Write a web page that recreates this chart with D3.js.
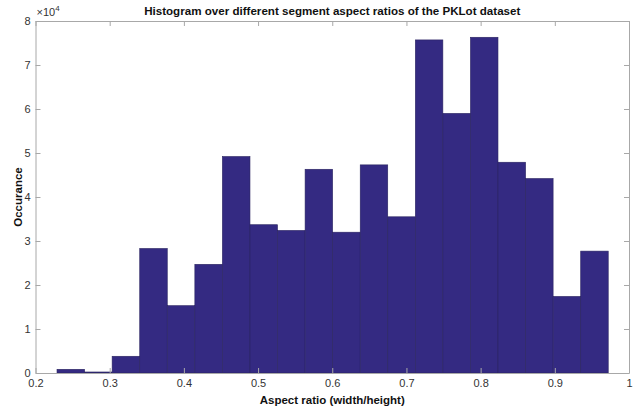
<!DOCTYPE html>
<html>
<head>
<meta charset="utf-8">
<script src="https://cdn.jsdelivr.net/npm/d3@7"></script>
<style>
  body { margin: 0; background: #fff; }
  svg { font-family: "Liberation Sans", Arial, sans-serif; }
</style>
</head>
<body>
<div id="chart"></div>
<script>
// bin edges (aspect ratio) and counts per bin
var binEdges = [0.2290, 0.2662, 0.3033, 0.3405, 0.3776, 0.4148, 0.4519, 0.4891, 0.5262, 0.5634,
                0.6005, 0.6377, 0.6748, 0.7120, 0.7491, 0.7863, 0.8234, 0.8606, 0.8977, 0.9349, 0.9720];
var counts = [840, 230, 3800, 28300, 15300, 24700, 49200, 33700, 32400, 46300,
              32000, 47300, 35500, 75700, 59000, 76300, 47900, 44200, 17400, 27700];
var xTicks = [0.2, 0.3, 0.4, 0.5, 0.6, 0.7, 0.8, 0.9, 1];
var yTicks = [0, 10000, 20000, 30000, 40000, 50000, 60000, 70000, 80000];

var svgWidth = 636;
var svgHeight = 408;

//plot box in pixels
var margin = { top: 21, right: 7, bottom: 35, left: 35.5 };
var width = svgWidth - margin.left - margin.right;
var height = svgHeight - margin.top - margin.bottom;

var svg = d3.select("#chart")
    .append("svg")
    .attr("width", svgWidth)
    .attr("height", svgHeight);

var chartGroup = svg.append("g")
    .attr("transform", `translate(${margin.left}, ${margin.top})`);

var xScale = d3.scaleLinear().domain([0.2, 1]).range([0, width]);
var yScale = d3.scaleLinear().domain([0, 80000]).range([height, 0]);

var bins = counts.map((c, i) => ({ x0: binEdges[i], x1: binEdges[i + 1], n: c }));

//bars
chartGroup.selectAll("rect.bar")
    .data(bins)
    .enter()
    .append("rect")
    .attr("class", "bar")
    .attr("x", d => xScale(d.x0))
    .attr("y", d => yScale(d.n))
    .attr("width", d => xScale(d.x1) - xScale(d.x0))
    .attr("height", d => yScale(0) - yScale(d.n))
    .attr("fill", "#342a82")
    .attr("stroke", "#2a2460")
    .attr("stroke-width", 0.6);

//axes, matlab style box with inward ticks
var axisColor = "#a8a8a8";
var textColor = "#333";

var botAxis = d3.axisBottom(xScale).tickValues(xTicks).tickFormat(d3.format("")).tickSizeInner(-5).tickSizeOuter(0).tickPadding(6);
var topAxis = d3.axisTop(xScale).tickValues(xTicks).tickFormat("").tickSizeInner(-5).tickSizeOuter(0);
var leftAxis = d3.axisLeft(yScale).tickValues(yTicks).tickFormat(d => d / 10000).tickSizeInner(-5).tickSizeOuter(0).tickPadding(5);
var rightAxis = d3.axisRight(yScale).tickValues(yTicks).tickFormat("").tickSizeInner(-5).tickSizeOuter(0);

var gb = chartGroup.append("g").attr("transform", `translate(0, ${height})`).call(botAxis);
var gt = chartGroup.append("g").call(topAxis);
var gl = chartGroup.append("g").call(leftAxis);
var gr = chartGroup.append("g").attr("transform", `translate(${width}, 0)`).call(rightAxis);

[gb, gt, gl, gr].forEach(g => {
    g.select(".domain").attr("stroke", axisColor);
    g.selectAll(".tick line").attr("stroke", axisColor);
    g.selectAll(".tick text").attr("fill", textColor).style("font-size", "11px").style("font-family", "Liberation Sans, Arial, sans-serif");
});

//exponent label
var expLabel = svg.append("text")
    .attr("x", margin.left + 1)
    .attr("y", 16)
    .attr("fill", textColor)
    .style("font-size", "11px");
expLabel.append("tspan").text("\u00d710");
expLabel.append("tspan").attr("dy", -5).style("font-size", "8px").text("4");

//title
svg.append("text")
    .attr("x", margin.left + width / 2)
    .attr("y", 14.5)
    .attr("text-anchor", "middle")
    .attr("fill", "#111")
    .style("font-size", "11.6px")
    .style("font-weight", "bold")
    .text("Histogram over different segment aspect ratios of the PKLot dataset");

//x label
svg.append("text")
    .attr("x", margin.left + width / 2)
    .attr("y", 404)
    .attr("text-anchor", "middle")
    .attr("fill", "#111")
    .style("font-size", "11.5px")
    .style("font-weight", "bold")
    .text("Aspect ratio (width/height)");

//y label
svg.append("text")
    .attr("transform", `translate(22, ${margin.top + height / 2}) rotate(-90)`)
    .attr("text-anchor", "middle")
    .attr("fill", "#111")
    .style("font-size", "11.5px")
    .style("font-weight", "bold")
    .text("Occurance");
</script>
</body>
</html>
